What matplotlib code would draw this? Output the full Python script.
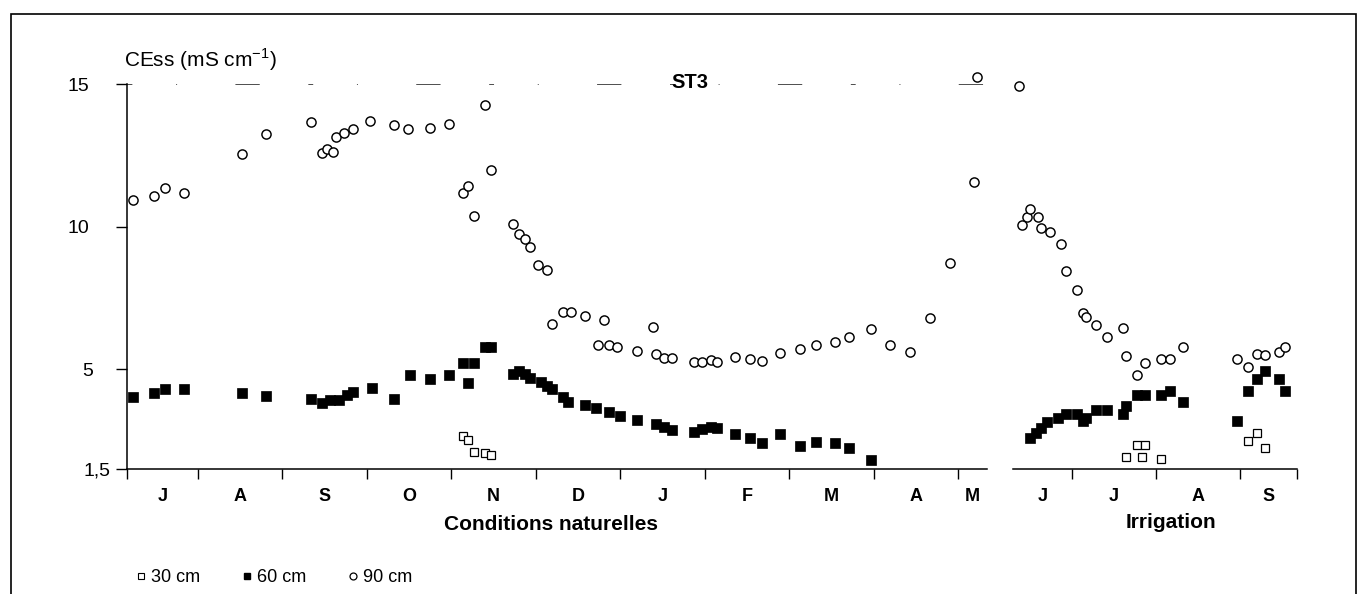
import calendar

import matplotlib
matplotlib.use("Agg")
import matplotlib.pyplot as plt
from matplotlib.lines import Line2D
from matplotlib.patches import Rectangle
from matplotlib.transforms import ScaledTranslation

plt.rcParams['font.family'] = ['Liberation Sans', 'DejaVu Sans']
plt.rcParams['mathtext.fontset'] = 'custom'
plt.rcParams['mathtext.rm'] = 'Liberation Sans'

# months on each panel, in the order they are drawn
nat_months = [7, 8, 9, 10, 11, 12, 1, 2, 3, 4, 5]
nat_month_labels = ['J', 'A', 'S', 'O', 'N', 'D', 'J', 'F', 'M', 'A', 'M']
irr_months = [6, 7, 8, 9]
irr_month_labels = ['J', 'J', 'A', 'S']

y_ticks = [1.5, 5, 10, 15]
y_tick_labels = ['1,5', '5', '10', '15']

# --- Conditions naturelles ---
nat_90_dates = ['07-08', '07-16', '07-20', '07-27', '08-17', '08-26', '09-11', '09-15',
                '09-17', '09-19', '09-20', '09-23', '09-26', '10-02', '10-11', '10-16',
                '10-24', '10-31', '11-05', '11-07', '11-09', '11-13', '11-15', '11-23',
                '11-25', '11-27', '11-29', '12-02', '12-05', '12-07', '12-11', '12-14',
                '12-19', '12-24', '12-26', '12-28', '12-31', '01-07', '01-13', '01-14',
                '01-17', '01-20', '01-28', '01-31', '02-03', '02-05', '02-11', '02-16',
                '02-20', '02-26', '03-05', '03-11', '03-18', '03-23', '03-31', '04-07',
                '04-14', '04-21', '04-28', '05-07', '05-08']
nat_90_vals = [10.93, 11.07, 11.34, 11.19, 12.56, 13.26, 13.68, 12.59,
               12.73, 12.60, 13.13, 13.29, 13.42, 13.69, 13.56, 13.43,
               13.45, 13.59, 11.17, 11.43, 10.36, 14.26, 11.98, 10.08,
               9.74, 9.55, 9.27, 8.64, 8.48, 6.58, 6.99, 6.99,
               6.85, 5.85, 6.72, 5.85, 5.79, 5.65, 6.47, 5.52,
               5.38, 5.38, 5.26, 5.26, 5.32, 5.26, 5.42, 5.35,
               5.29, 5.56, 5.70, 5.84, 5.96, 6.12, 6.40, 5.85,
               5.59, 6.81, 8.71, 11.57, 15.23]

nat_60_dates = ['07-08', '07-16', '07-20', '07-27', '08-17', '08-26', '09-11', '09-15',
                '09-18', '09-21', '09-24', '09-26', '10-03', '10-11', '10-17', '10-24',
                '10-31', '11-05', '11-07', '11-09', '11-13', '11-15', '11-23', '11-25',
                '11-27', '11-29', '12-03', '12-05', '12-07', '12-11', '12-13', '12-19',
                '12-23', '12-28', '01-01', '01-07', '01-14', '01-17', '01-20', '01-28',
                '01-31', '02-03', '02-05', '02-11', '02-16', '02-20', '02-26', '03-05',
                '03-11', '03-18', '03-23', '03-31']
nat_60_vals = [4.04, 4.18, 4.32, 4.29, 4.18, 4.06, 3.94, 3.80,
               3.92, 3.92, 4.08, 4.21, 4.35, 3.97, 4.80, 4.67,
               4.81, 5.23, 4.53, 5.23, 5.77, 5.77, 4.83, 4.95,
               4.83, 4.68, 4.56, 4.41, 4.29, 4.04, 3.86, 3.74,
               3.63, 3.51, 3.36, 3.22, 3.08, 2.96, 2.87, 2.81,
               2.89, 2.98, 2.93, 2.73, 2.58, 2.42, 2.72, 2.31,
               2.46, 2.40, 2.23, 1.82]

nat_30_dates = ['11-05', '11-07', '11-09', '11-13', '11-15']
nat_30_vals = [2.66, 2.52, 2.11, 2.05, 1.99]

# --- Irrigation ---
irr_90_dates = ['06-12', '06-13', '06-15', '06-16', '06-19', '06-20', '06-23', '06-27',
                '06-29', '07-03', '07-05', '07-06', '07-10', '07-14', '07-20', '07-21',
                '07-25', '07-28', '08-03', '08-06', '08-11', '08-31', '09-04', '09-07',
                '09-10', '09-15', '09-17']
irr_90_vals = [14.93, 10.06, 10.35, 10.62, 10.35, 9.94, 9.80, 9.39,
               8.45, 7.78, 6.96, 6.82, 6.55, 6.14, 6.43, 5.47,
               4.80, 5.21, 5.35, 5.35, 5.77, 5.35, 5.07, 5.53,
               5.50, 5.61, 5.77]

irr_60_dates = ['06-16', '06-18', '06-20', '06-22', '06-26', '06-29', '07-03', '07-05',
                '07-06', '07-10', '07-14', '07-20', '07-21', '07-25', '07-28', '08-03',
                '08-06', '08-11', '08-31', '09-04', '09-07', '09-10', '09-15', '09-17']
irr_60_vals = [2.60, 2.77, 2.93, 3.16, 3.28, 3.42, 3.42, 3.18,
               3.30, 3.57, 3.57, 3.43, 3.71, 4.09, 4.09, 4.09,
               4.25, 3.86, 3.19, 4.25, 4.66, 4.95, 4.66, 4.25]

irr_30_dates = ['07-21', '07-25', '07-27', '07-28', '08-03', '09-04', '09-07', '09-10']
irr_30_vals = [1.93, 2.34, 1.93, 2.34, 1.84, 2.49, 2.77, 2.23]


def month_pos(dates, months):
    # every month gets the same width on the axis
    out = []
    for d in dates:
        m, day = [int(p) for p in d.split('-')]
        ndays = calendar.monthrange(2001, m)[1]
        out.append(months.index(m) + (day - 1) / ndays)
    return out


W, H = 1367, 594
fig = plt.figure(figsize=(W / 100, H / 100), dpi=100)
fig.patch.set_facecolor('white')

ax1 = fig.add_axes([127 / W, 1 - 469 / H, 860 / W, 385 / H])
ax2 = fig.add_axes([1013 / W, 1 - 469 / H, 284 / W, 385 / H])

panels = [
    (ax1, nat_months, nat_month_labels, (0.159, 10.344),
     (nat_30_dates, nat_30_vals), (nat_60_dates, nat_60_vals), (nat_90_dates, nat_90_vals)),
    (ax2, irr_months, irr_month_labels, (0.298, 3.679),
     (irr_30_dates, irr_30_vals), (irr_60_dates, irr_60_vals), (irr_90_dates, irr_90_vals)),
]

for ax, months, mlabels, xlim, s30, s60, s90 in panels:
    ax.set_xlim(*xlim)
    ax.set_ylim(1.5, 15)
    ax.set_facecolor('none')
    for side in ['top', 'right']:
        ax.spines[side].set_visible(False)
    ax.spines['bottom'].set_linewidth(1.1)
    ax.spines['left'].set_linewidth(1.1)

    ax.plot(month_pos(s90[0], months), s90[1], ls='none', marker='o', ms=6.6,
            mfc='white', mec='black', mew=1.05, clip_on=False, zorder=3)
    ax.plot(month_pos(s60[0], months), s60[1], ls='none', marker='s', ms=6.7,
            mfc='black', mec='black', mew=0.5, clip_on=False, zorder=4)
    ax.plot(month_pos(s30[0], months), s30[1], ls='none', marker='s', ms=5.9,
            mfc='white', mec='black', mew=0.9, clip_on=False, zorder=4)

    # month boundaries as ticks, month letters centred in the visible part
    n = len(months)
    bounds = list(range(1, n))
    centers = [(xlim[0] + 1) / 2] + [k + 0.5 for k in range(1, n - 1)] + [(n - 1 + xlim[1]) / 2]
    ax.set_xticks(bounds)
    ax.set_xticks(centers, minor=True)
    ax.set_xticklabels(mlabels, minor=True)
    ax.tick_params(axis='x', which='major', direction='out', length=7, width=1,
                   labelbottom=False)
    ax.tick_params(axis='x', which='minor', length=0, pad=13.5, labelsize=13)
    for lab in ax.get_xticklabels(minor=True):
        lab.set_fontweight('bold')

ax1.set_xticks([0.159] + list(range(1, 11)))
ax2.set_xticks([1, 2, 3, 3.679])
ax2.spines['left'].set_visible(False)
ax2.set_yticks([])

ax1.set_yticks(y_ticks)
ax1.set_yticklabels(y_tick_labels)
ax1.tick_params(axis='y', direction='out', length=8, width=1, pad=19.5, labelsize=14)
shifts = {'1,5': 22, '5': 4}
for lab in ax1.get_yticklabels():
    dx = shifts.get(lab.get_text(), 0)
    if dx:
        lab.set_transform(lab.get_transform() + ScaledTranslation(dx / 100, 0, fig.dpi_scale_trans))

# faint broken line left by the scan at 15
ax1.axhline(15, color='0.3', lw=0.7, ls=(0, (5, 45, 1, 60, 25, 50)), zorder=1)

fig.text(124 / W, 1 - 60 / H, 'CEss (mS cm$^{-1}$)', ha='left', va='center', fontsize=15)
fig.text(690 / W, 1 - 83 / H, 'ST3', ha='center', va='center', fontsize=14.5, fontweight='bold')
fig.text(551 / W, 1 - 524 / H, 'Conditions naturelles', ha='center', va='center',
         fontsize=15, fontweight='bold')
fig.text(1171 / W, 1 - 522 / H, 'Irrigation', ha='center', va='center',
         fontsize=15, fontweight='bold')

handles = [
    Line2D([], [], ls='none', marker='s', ms=4.3, mfc='white', mec='black', mew=0.8),
    Line2D([], [], ls='none', marker='s', ms=5.0, mfc='black', mec='black'),
    Line2D([], [], ls='none', marker='o', ms=5.0, mfc='white', mec='black', mew=0.9),
]
fig.legend(handles, ['30 cm', '60 cm', '90 cm'], loc='center left',
           bbox_to_anchor=(136 / W, 1 - 578 / H), ncol=3, frameon=False, fontsize=13,
           handlelength=0.5, handletextpad=0.35, columnspacing=2.3,
           borderpad=0, borderaxespad=0)

# frame round the whole figure (runs off the bottom edge)
fig.add_artist(Rectangle((11 / W, -0.05), (1356 - 11) / W, 1.05 - 14 / H,
                         transform=fig.transFigure, fill=False, lw=1.2, ec='black'))

fig.savefig('out.png', dpi=100)
